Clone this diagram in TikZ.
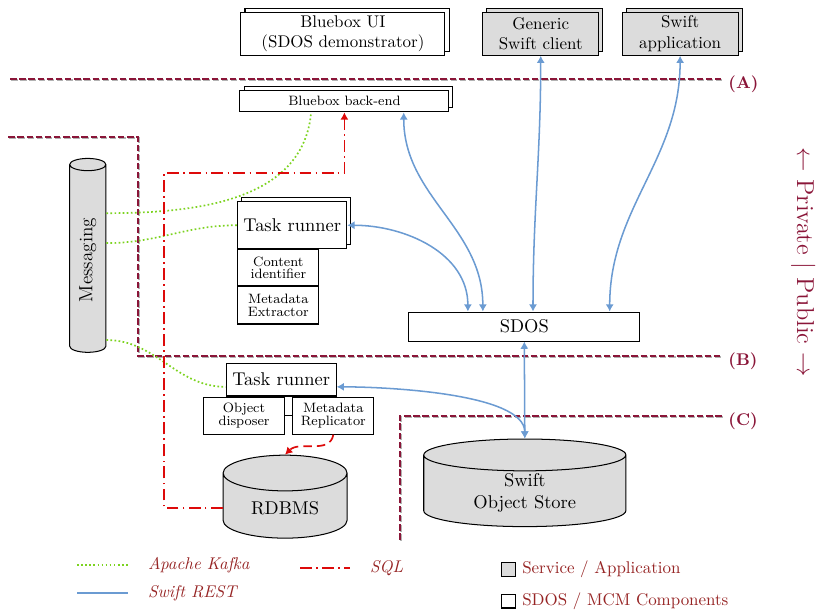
\documentclass[tikz,border=0pt]{standalone}
\usepackage{xcolor}
\usepackage{amsmath,amssymb}
\usepackage{tikz}
\usetikzlibrary{arrows.meta,positioning,shapes.geometric,shadows}
\definecolor{maroon}{HTML}{8A1538}
\definecolor{legendred}{HTML}{962424}
\definecolor{kafka}{HTML}{7CD320}
\definecolor{rest}{HTML}{6B9BD2}
\definecolor{sqlred}{HTML}{DD0A0A}
\definecolor{svcgray}{HTML}{DCDCDC}

\begin{document}
\begin{tikzpicture}[every node/.style={align=center,inner sep=1pt},
  box/.style={draw,line width=0.6pt,fill=white},
  svcbox/.style={box,fill=svcgray},
  stack/.style={copy shadow={shadow xshift=2.4pt,shadow yshift=2.4pt,draw=black,line width=0.6pt,fill=#1}},stack/.default=white,
  small/.style={font=\fontsize{8}{7.6}\selectfont},
  big/.style={font=\fontsize{10.9}{13}\selectfont},
  db/.style={draw,line width=0.6pt,fill=svcgray,cylinder,shape border rotate=90,aspect=#1},
  boundary/.style={maroon,line width=1.5pt,dash pattern=on 3.8pt off 1.6pt,preaction={draw=gray!60,line width=1.5pt,dash pattern=on 3.8pt off 1.6pt,transform canvas={shift={(0.6pt,-0.6pt)}}}},
  bndlabel/.style={maroon,font=\bfseries,anchor=west,xshift=2pt,yshift=-3pt},
  kafkaline/.style={kafka,line width=1pt,dash pattern=on 1pt off 1.4pt},
  restline/.style={rest,line width=0.9pt,{Latex[length=1.5mm,width=1.7mm]}-{Latex[length=1.5mm,width=1.7mm]}},
  sqlline/.style={sqlred,line width=1pt,dash pattern=on 7pt off 2.5pt on 1pt off 2.5pt},
  sqldash/.style={sqlred,line width=1pt,dash pattern=on 5pt off 3pt},
  legend/.style={legendred}]
\useasboundingbox (0,0) rectangle (17.0,-12.667);

\draw[boundary] (0.21,-1.64) -- (14.97,-1.64) node[bndlabel] (lblA) {(A)};
\draw[boundary] (0.17,-2.84) -| (2.86,-7.38) -- (14.97,-7.38) node[bndlabel] (lblB) {(B)};
\draw[boundary] (8.29,-11.19) |- (14.97,-8.62) node[bndlabel] (lblC) {(C)};
\node[maroon,font=\Large,rotate=-90] (side) at (16.65,-5.43) {$\leftarrow$ Private $|$ Public $\rightarrow$};

\node[box,stack,minimum width=4.23cm,minimum height=0.89cm] (ui) at (7.11,-0.70) {Bluebox UI\\(SDOS demonstrator)};
\node[svcbox,stack=svcgray,minimum width=2.40cm,minimum height=0.89cm] (client) at (11.21,-0.70) {Generic\\Swift client};
\node[svcbox,stack=svcgray,minimum width=2.40cm,minimum height=0.89cm] (app) at (14.10,-0.70) {Swift\\application};
\node[box,stack,small,minimum width=4.33cm,minimum height=0.44cm] (backend) at (7.14,-2.10) {Bluebox back-end};

\node[box,stack,big,minimum width=2.26cm,minimum height=0.97cm] (trA) at (6.06,-4.67) {Task runner};
\node[box,small,minimum width=1.68cm,minimum height=0.75cm,below right=0pt and 0pt of trA.south west] (ident) {Content\\identifier};
\node[box,small,minimum width=1.68cm,minimum height=0.77cm,below=0pt of ident] (extr) {Metadata\\Extractor};

\node[box,big,minimum width=4.79cm,minimum height=0.60cm] (sdos) at (10.87,-6.77) {SDOS};
\node[box,big,minimum width=2.28cm,minimum height=0.68cm] (trB) at (5.83,-7.87) {Task runner};
\node[box,small,minimum width=1.68cm,minimum height=0.77cm,below=0pt of trB.south,anchor=north east,xshift=0.08cm] (disp) {Object\\disposer};
\node[box,small,minimum width=1.68cm,minimum height=0.77cm,below=0pt of trB.south,anchor=north west,xshift=0.23cm] (repl) {Metadata\\Replicator};
\draw[line width=0.6pt] (disp) -- (repl);

\node[db=0.6,font=\fontsize{11.3}{13}\selectfont,minimum width=0.75cm,minimum height=4.02cm] (msg) at (1.82,-5.39) {\rotatebox{90}{Messaging}};
\node[db=0.5,big,minimum width=2.57cm,minimum height=1.72cm] (rdbms) at (5.91,-10.53) {RDBMS};
\node[db=0.3,big,minimum width=4.19cm,minimum height=1.72cm] (swift) at (10.88,-10.21) {Swift\\Object Store};

\draw[kafkaline] ([yshift=0.97cm]msg.east) to[out=0,in=-95] ([xshift=-0.69cm]backend.south);
\draw[kafkaline] ([yshift=0.35cm]msg.east) to[out=0,in=180] (trA.west);
\draw[kafkaline] ([yshift=-1.66cm]msg.east) to[out=0,in=180] ([yshift=-0.15cm]trB.west);

\coordinate (sqlturn) at (3.40,-3.59);
\draw[sqlline,-{Latex[length=1.5mm,width=1.7mm]}] (rdbms.west) -| (sqlturn) -| (backend.south);
\draw[sqldash,-{Latex[length=1.5mm,width=1.7mm]}] (repl.south) to[out=-100,in=45] (rdbms.north);

\draw[restline] ([xshift=1.23cm]backend.south) to[out=-90,in=90] ([xshift=-0.86cm]sdos.north);
\draw[restline] (trA.east) to[out=0,in=90] ([xshift=-1.17cm]sdos.north);
\draw[restline] (client.south) to[out=-90,in=90] ([xshift=0.18cm]sdos.north);
\draw[restline] (app.south) to[out=-90,in=90] ([xshift=1.77cm]sdos.north);
\draw[restline] (sdos.south) -- (swift.north);
\draw[restline] ([yshift=-0.15cm]trB.east) to[out=0,in=90,looseness=0.6] (swift.north);

\coordinate (kafA) at (1.60,-11.71);
\coordinate (kafB) at (2.65,-11.71);
\draw[kafkaline] (kafA) -- (kafB);
\node[legend,right=0.38cm of kafB] (kafTxt) {\itshape Apache Kafka};
\coordinate (restA) at (1.60,-12.29);
\coordinate (restB) at (2.65,-12.29);
\draw[rest,line width=0.9pt] (restA) -- (restB);
\node[legend,right=0.38cm of restB] (restTxt) {\itshape Swift REST};
\coordinate (sqlA) at (6.22,-11.78);
\coordinate (sqlB) at (7.25,-11.78);
\draw[sqlline] (sqlA) -- (sqlB);
\node[legend,right=0.38cm of sqlB] (sqlTxt) {\itshape SQL};
\node[svcbox,minimum size=0.29cm,inner sep=0pt] (keySvc) at (10.55,-11.80) {};
\node[legend,right=0.08cm of keySvc] (svcTxt) {Service / Application};
\node[box,minimum size=0.29cm,inner sep=0pt] (keyComp) at (10.55,-12.46) {};
\node[legend,right=0.08cm of keyComp] (compTxt) {SDOS / MCM Components};
\end{tikzpicture}
\end{document}
